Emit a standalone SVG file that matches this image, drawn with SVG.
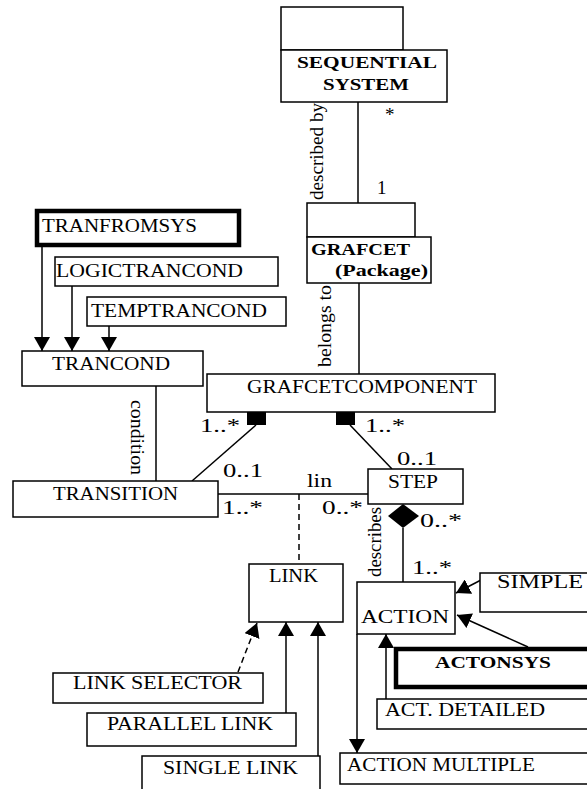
<svg xmlns="http://www.w3.org/2000/svg" width="587" height="789" viewBox="0 0 587 789">
  <style>
    .box { fill: #fff; stroke: #000; stroke-width: 1.5; }
    .thick { fill: #fff; stroke: #000; stroke-width: 4.5; }
    .lbl { font-family: "Liberation Serif", "Times New Roman", serif; font-size: 18px; fill: #000; }
    .bold { font-family: "Liberation Serif", "Times New Roman", serif; font-size: 17px; font-weight: bold; fill: #000; }
    .mult { font-family: "Liberation Serif", "Times New Roman", serif; font-size: 19px; fill: #000; }
    .conn line { stroke: #000; stroke-width: 1.5; fill: none; }
    .dash { stroke-dasharray: 6 4; }
  </style>
  <defs>
    <marker id="tri" viewBox="0 0 14 16" refX="14" refY="8" markerWidth="14" markerHeight="16" markerUnits="userSpaceOnUse" orient="auto">
      <path d="M0,0 L14,8 L0,16 z" fill="#000"/>
    </marker>
  </defs>
  <rect width="587" height="789" fill="#fff"/>

  <!-- connectors -->
  <g id="connectors" class="conn">
    <line x1="358" y1="102" x2="358" y2="203"/>
    <line x1="359" y1="283" x2="359" y2="374"/>
    <line x1="42" y1="247" x2="42" y2="351" marker-end="url(#tri)"/>
    <line x1="72" y1="286" x2="72" y2="351" marker-end="url(#tri)"/>
    <line x1="109" y1="326" x2="109" y2="351" marker-end="url(#tri)"/>
    <line x1="156" y1="386" x2="156" y2="481"/>
    <line x1="256" y1="425" x2="192" y2="481"/>
    <line x1="350" y1="425" x2="392" y2="469"/>
    <line x1="218" y1="494" x2="368" y2="494"/>
    <line class="dash" x1="299" y1="494" x2="299" y2="564"/>
    <line x1="403" y1="528" x2="403" y2="582"/>
    <line x1="481" y1="580" x2="456" y2="593" marker-end="url(#tri)"/>
    <line x1="528" y1="647" x2="457" y2="615" marker-end="url(#tri)"/>
    <line x1="386" y1="699" x2="386" y2="634" marker-end="url(#tri)"/>
    <line x1="357" y1="634" x2="357" y2="753" marker-end="url(#tri)"/>
    <line class="dash" x1="238" y1="672" x2="257" y2="623" marker-end="url(#tri)"/>
    <line x1="286" y1="713" x2="286" y2="622" marker-end="url(#tri)"/>
    <line x1="318" y1="756" x2="318" y2="622" marker-end="url(#tri)"/>
    <!-- composition ends -->
    <rect x="247" y="412" width="19" height="13" fill="#000"/>
    <rect x="336" y="412" width="19" height="13" fill="#000"/>
    <polygon points="403,504 419,516 403,528 388,516" fill="#000"/>
  </g>

  <!-- association labels -->
  <g id="labels">
    <text class="mult" x="385" y="121">*</text>
    <text class="mult" x="377" y="194">1</text>
    <text class="lbl" transform="translate(323,200) rotate(-90)" textLength="97" lengthAdjust="spacingAndGlyphs">described by</text>
    <text class="lbl" transform="translate(331,367) rotate(-90)" textLength="82" lengthAdjust="spacingAndGlyphs">belongs to</text>
    <text class="lbl" transform="translate(131,400) rotate(90)" textLength="75" lengthAdjust="spacingAndGlyphs">condition</text>
    <text class="lbl" transform="translate(381,577) rotate(-90)" textLength="70" lengthAdjust="spacingAndGlyphs">describes</text>
    <text class="mult" x="200" y="432" textLength="40" lengthAdjust="spacingAndGlyphs">1..*</text>
    <text class="mult" x="365" y="432" textLength="40" lengthAdjust="spacingAndGlyphs">1..*</text>
    <text class="mult" x="397" y="465" textLength="40" lengthAdjust="spacingAndGlyphs">0..1</text>
    <text class="mult" x="223" y="477" textLength="40" lengthAdjust="spacingAndGlyphs">0..1</text>
    <text class="mult" x="307" y="487" textLength="25" lengthAdjust="spacingAndGlyphs">lin</text>
    <text class="mult" x="222" y="514" textLength="41" lengthAdjust="spacingAndGlyphs">1..*</text>
    <text class="mult" x="322" y="514" textLength="41" lengthAdjust="spacingAndGlyphs">0..*</text>
    <text class="mult" x="420" y="527" textLength="42" lengthAdjust="spacingAndGlyphs">0..*</text>
    <text class="mult" x="412" y="574" textLength="40" lengthAdjust="spacingAndGlyphs">1..*</text>
  </g>

  <!-- class nodes -->
  <g id="sequential-system">
    <rect class="box" x="281" y="7" width="122" height="43"/>
    <rect class="box" x="281" y="50" width="166" height="52"/>
    <text class="bold" x="297" y="68" textLength="140" lengthAdjust="spacingAndGlyphs">SEQUENTIAL</text>
    <text class="bold" x="323" y="90" textLength="86" lengthAdjust="spacingAndGlyphs">SYSTEM</text>
  </g>
  <g id="grafcet">
    <rect class="box" x="307" y="203" width="108" height="34"/>
    <rect class="box" x="307" y="237" width="124" height="46"/>
    <text class="bold" x="311" y="255" textLength="99" lengthAdjust="spacingAndGlyphs">GRAFCET</text>
    <text class="bold" x="335" y="276" font-size="16" textLength="93" lengthAdjust="spacingAndGlyphs">(Package)</text>
  </g>
  <g id="tranfromsys">
    <rect class="thick" x="37" y="211" width="202" height="34"/>
    <text class="lbl" x="42" y="232" textLength="155" lengthAdjust="spacingAndGlyphs">TRANFROMSYS</text>
  </g>
  <g id="logictrancond">
    <rect class="box" x="55" y="257" width="223" height="29"/>
    <text class="lbl" x="56" y="277" textLength="187" lengthAdjust="spacingAndGlyphs">LOGICTRANCOND</text>
  </g>
  <g id="temptrancond">
    <rect class="box" x="87" y="297" width="199" height="29"/>
    <text class="lbl" x="91" y="317" textLength="176" lengthAdjust="spacingAndGlyphs">TEMPTRANCOND</text>
  </g>
  <g id="trancond">
    <rect class="box" x="22" y="351" width="181" height="35"/>
    <text class="lbl" x="52" y="370" textLength="118" lengthAdjust="spacingAndGlyphs">TRANCOND</text>
  </g>
  <g id="grafcetcomponent">
    <rect class="box" x="207" y="374" width="288" height="38"/>
    <text class="lbl" x="247" y="393" textLength="230" lengthAdjust="spacingAndGlyphs">GRAFCETCOMPONENT</text>
  </g>
  <g id="transition">
    <rect class="box" x="13" y="481" width="205" height="36"/>
    <text class="lbl" x="53" y="500" textLength="125" lengthAdjust="spacingAndGlyphs">TRANSITION</text>
  </g>
  <g id="step">
    <rect class="box" x="368" y="469" width="95" height="35"/>
    <text class="lbl" x="388" y="488" textLength="50" lengthAdjust="spacingAndGlyphs">STEP</text>
  </g>
  <g id="link">
    <rect class="box" x="249" y="564" width="94" height="58"/>
    <text class="lbl" x="269" y="582" textLength="49" lengthAdjust="spacingAndGlyphs">LINK</text>
  </g>
  <g id="action">
    <rect class="box" x="357" y="582" width="98" height="52"/>
    <text class="lbl" x="361" y="623" textLength="88" lengthAdjust="spacingAndGlyphs">ACTION</text>
  </g>
  <g id="simple">
    <rect class="box" x="480" y="573" width="112" height="39"/>
    <text class="lbl" x="497" y="588" textLength="86" lengthAdjust="spacingAndGlyphs">SIMPLE</text>
  </g>
  <g id="actonsys">
    <rect class="thick" x="396" y="649" width="196" height="38"/>
    <text class="bold" x="435" y="668" textLength="116" lengthAdjust="spacingAndGlyphs">ACTONSYS</text>
  </g>
  <g id="act-detailed">
    <rect class="box" x="377" y="699" width="215" height="30"/>
    <text class="lbl" x="385" y="716" textLength="160" lengthAdjust="spacingAndGlyphs">ACT. DETAILED</text>
  </g>
  <g id="action-multiple">
    <rect class="box" x="340" y="753" width="252" height="31"/>
    <text class="lbl" x="347" y="771" textLength="188" lengthAdjust="spacingAndGlyphs">ACTION MULTIPLE</text>
  </g>
  <g id="link-selector">
    <rect class="box" x="53" y="673" width="210" height="30"/>
    <text class="lbl" x="73" y="689" textLength="169" lengthAdjust="spacingAndGlyphs">LINK SELECTOR</text>
  </g>
  <g id="parallel-link">
    <rect class="box" x="87" y="713" width="209" height="33"/>
    <text class="lbl" x="107" y="730" textLength="166" lengthAdjust="spacingAndGlyphs">PARALLEL LINK</text>
  </g>
  <g id="single-link">
    <rect class="box" x="142" y="756" width="178" height="40"/>
    <text class="lbl" x="163" y="774" textLength="135" lengthAdjust="spacingAndGlyphs">SINGLE LINK</text>
  </g>
</svg>
